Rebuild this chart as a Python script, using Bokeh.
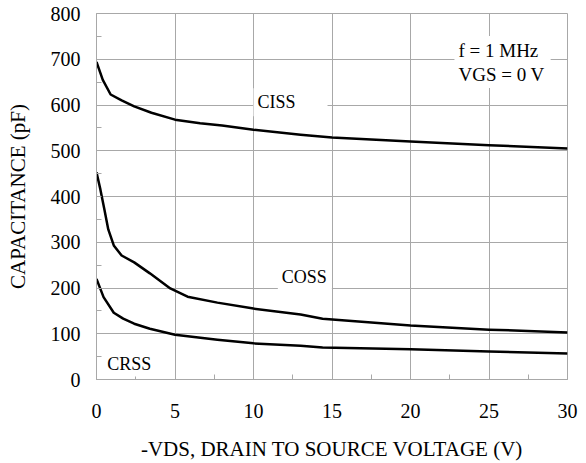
from bokeh.plotting import figure
from bokeh.models import Range1d, SingleIntervalTicker, Label
from bokeh.embed import file_html
from bokeh.resources import INLINE

# Data
ciss_x = [0, 0.4, 0.9, 1.6, 2.4, 3.5, 5, 6.6, 8, 10, 13, 15, 20, 25, 30]
ciss_y = [694, 655, 623, 610, 597, 583, 568, 560, 555, 546, 535, 529, 520, 512, 505]

coss_x = [0, 0.25, 0.5, 0.75, 1.1, 1.6, 2.4, 3.4, 4.7, 5.8, 7.7, 10, 13, 14.4, 20, 25, 30]
coss_y = [453, 415, 372, 328, 293, 271, 256, 232, 199, 181, 168, 155, 142, 133, 118, 109, 103]

crss_x = [0, 0.45, 1.1, 1.7, 2.4, 3.4, 5, 7.7, 10, 13, 14.4, 20, 25, 30]
crss_y = [220, 180, 146, 133, 122, 111, 98, 87, 79, 74, 70, 66, 61, 57]

FONT = "'Liberation Serif', 'Times New Roman', serif"
GRID = "#a8a8a8"

p = figure(width=586, height=463, output_backend="svg", toolbar_location=None,
           x_range=Range1d(0, 30), y_range=Range1d(0, 800),
           min_border_left=96, min_border_right=19, min_border_top=13, min_border_bottom=84)
p.outline_line_color = GRID
p.background_fill_color = "white"
p.border_fill_color = "white"

p.xaxis.ticker = SingleIntervalTicker(interval=5, num_minor_ticks=2)
p.yaxis.ticker = SingleIntervalTicker(interval=100, num_minor_ticks=2)

for ax in (p.xaxis, p.yaxis):
    ax.axis_line_color = GRID
    ax.major_tick_in = 0
    ax.major_tick_out = 0
    ax.minor_tick_in = 5
    ax.minor_tick_out = 0
    ax.minor_tick_line_color = GRID
    ax.major_label_text_font = FONT
    ax.major_label_text_font_size = "20px"
    ax.major_label_text_color = "black"
    ax.axis_label_text_font = FONT
    ax.axis_label_text_font_size = "21px"
    ax.axis_label_text_font_style = "normal"
    ax.axis_label_text_color = "black"

p.xaxis.axis_label = "-VDS, DRAIN TO SOURCE VOLTAGE (V)"
p.yaxis.axis_label = "CAPACITANCE (pF)"
p.xaxis.major_label_standoff = 24
p.xaxis.axis_label_standoff = 16
p.yaxis.major_label_standoff = 16
p.yaxis.axis_label_standoff = 18

p.xgrid.grid_line_color = GRID
p.ygrid.grid_line_color = GRID
p.xgrid.grid_line_width = 1
p.ygrid.grid_line_width = 1

for xs, ys in ((ciss_x, ciss_y), (coss_x, coss_y), (crss_x, crss_y)):
    p.line(xs, ys, line_color="black", line_width=2.5, line_join="round")

def lab(x, y, text, pad):
    p.add_layout(Label(x=x, y=y, text=text, text_font=FONT, text_font_size="18px",
                       text_color="black", text_align="left", text_baseline="middle",
                       background_fill_color="white", padding=pad))

lab(10.0, 606, "CISS", (4, 32, 4, 4))
lab(11.55, 224, "COSS", (4, 5, 4, 4))
lab(0.55, 33, "CRSS", (2, 2, 2, 2))

p.add_layout(Label(x=22.8, y=694, text="f = 1 MHz\nVGS = 0 V", text_font=FONT,
                   text_font_size="19px", text_color="black", text_align="left",
                   text_baseline="middle", text_line_height=1.15,
                   background_fill_color="white", padding=(4, 6, 4, 3)))

open("out.html", "w").write(file_html(p, INLINE))
